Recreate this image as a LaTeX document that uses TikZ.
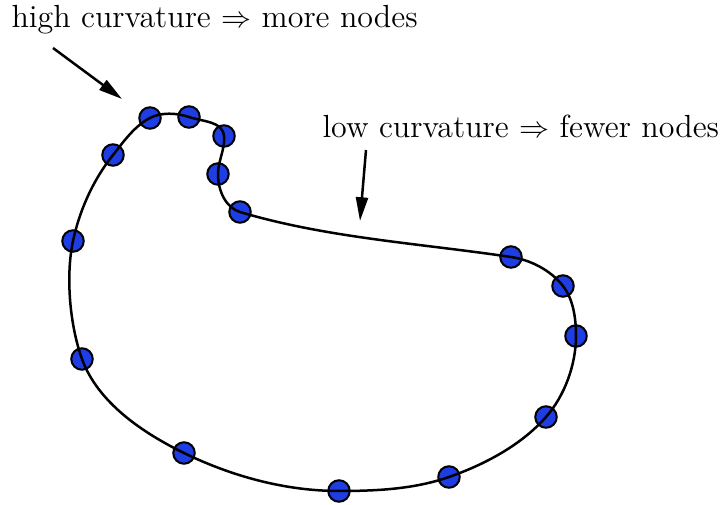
\documentclass[tikz,border=0pt]{standalone}
\usepackage{xcolor}
\usetikzlibrary{arrows.meta}
\definecolor{nodeblue}{RGB}{30,62,228}
\tikzset{
  sample/.style={circle, draw=black, fill=nodeblue, line width=0.8pt, minimum size=8.6pt, inner sep=0pt},
  outline/.style={line width=1pt, black, line join=round},
  note/.style={font=\fontsize{12.8}{15}\selectfont, inner sep=0pt},
  pointer/.style={-{Triangle[length=9.5pt,width=4.8pt]}, line width=1pt, black},
}
\begin{document}
\begin{tikzpicture}[x=0.4pt, y=-0.4pt]
  \useasboundingbox (0,0) rectangle (722,505);
  % sample nodes on the curve
  \foreach \n/\x/\y in {1/150/118, 2/189/117, 3/224/136, 4/218/174, 5/240/212,
                        6/511/257, 7/563/286, 8/576/336, 9/546/417, 10/449/477,
                        11/339/491, 12/184/453, 13/82/359, 14/73/241, 15/113/155}
    \node[sample] (d\n) at (\x,\y) {};
  % closed curve through the samples
  \draw[outline] (d1.center)
    .. controls +(11.6,-6) and +(-12.3,-4.1) .. (d2.center)
    .. controls +(14.2,4.8) and +(-1.5,-14.9) .. (d3.center)
    .. controls +(1.3,12.7) and +(0,-12.8) .. (d4.center)
    .. controls +(0,18) and +(-13.4,-4) .. (d5.center)
    .. controls +(87,26) and +(-90,-13.5) .. (d6.center)
    .. controls +(19.6,2.9) and +(-12.1,-15.6) .. (d7.center)
    .. controls +(10.5,13.6) and +(0,-17.2) .. (d8.center)
    .. controls +(0,28.5) and +(18.8,-21.4) .. (d9.center)
    .. controls +(-24.9,28.3) and +(35.4,-12.4) .. (d10.center)
    .. controls +(-34.8,12.2) and +(37,0) .. (d11.center)
    .. controls +(-53.2,0) and +(47.9,23.4) .. (d12.center)
    .. controls +(-41.6,-20.3) and +(15.7,43.4) .. (d13.center)
    .. controls +(-12.2,-33.8) and +(-7.5,35.2) .. (d14.center)
    .. controls +(6.6,-30.9) and +(-19.7,24.7) .. (d15.center)
    .. controls +(10.8,-13.6) and +(-15.5,8) .. (d1.center) -- cycle;
  % labels
  \node[note, anchor=base west] (hi) at (11,28) {high curvature $\Rightarrow$ more nodes};
  \node[note, anchor=base west] (lo) at (322,138) {low curvature $\Rightarrow$ fewer nodes};
  \coordinate (hitail) at (53,48);
  \coordinate (hitip) at (122,99);
  \coordinate (lotail) at (366,150);
  \coordinate (lotip) at (360,221);
  \draw[pointer] (hitail) -- (hitip);
  \draw[pointer] (lotail) -- (lotip);
\end{tikzpicture}
\end{document}
